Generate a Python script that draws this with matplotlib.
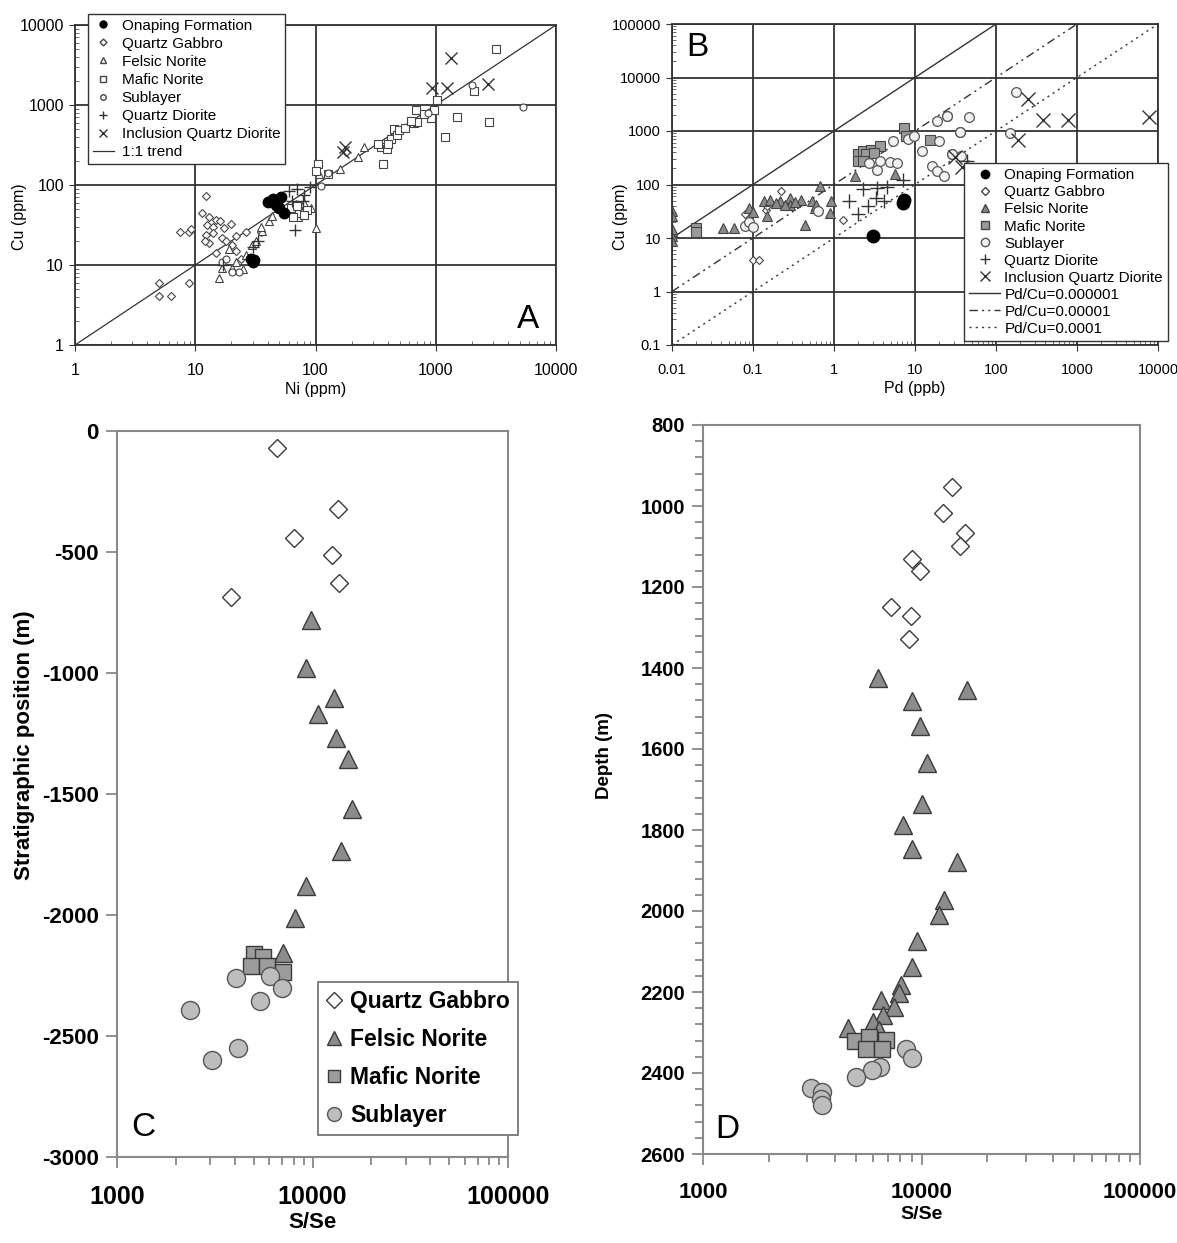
import numpy as np
import matplotlib.pyplot as plt
from matplotlib.lines import Line2D
from matplotlib.ticker import LogLocator, NullFormatter, MultipleLocator

plt.rcParams['font.family'] = ['Liberation Sans', 'DejaVu Sans']
plt.rcParams['axes.unicode_minus'] = False

# ---------------- panel A : Ni vs Cu (ppm) ----------------
a_onaping = [(40, 62), (44, 66), (47, 56), (50, 52), (52, 70), (48, 60), (30, 11), (29, 12), (31, 11.5), (55, 45)]
a_qgabbro = [(12.3, 72), (11.4, 45), (7.5, 26), (8.8, 26), (9.2, 28), (12.6, 32), (14.8, 36), (12.3, 24),
             (13.1, 19), (17.4, 29), (19.8, 33), (21.7, 23), (26.3, 26), (16.6, 22), (20.4, 18), (5.0, 6.0),
             (5.0, 4.1), (6.3, 4.1), (8.9, 6.0), (14, 30), (16, 35), (13, 40), (18, 20), (22, 15), (24, 12),
             (15, 14), (12, 20), (180, 260), (35, 26), (14, 25)]
a_felsic = [(15.8, 6.8), (16.8, 9.1), (20.4, 9.1), (26.3, 13.4), (29.9, 17.9), (31.8, 19.7), (36.1, 26.3),
            (41.1, 35.2), (43.8, 40.6), (60.3, 51.8), (68.5, 57.1), (77.7, 47), (100, 29), (91, 52), (106, 136),
            (160, 158), (224, 222), (255, 297), (19, 16), (22, 11), (35, 30), (65, 45), (80, 60), (72, 40), (25, 9)]
a_mafic = [(62, 52), (72.6, 45), (85.3, 49), (70, 55), (80, 42), (65, 40), (104, 183), (101, 150), (126, 136),
           (361, 183), (350, 297), (390, 283), (328, 327), (424, 378), (450, 506), (480, 417), (495, 483),
           (660, 590), (700, 615), (680, 864), (910, 690), (970, 864), (1030, 1150), (1190, 397), (1500, 711),
           (2790, 609), (2080, 1500), (3180, 5070), (550, 520), (620, 640), (400, 330), (800, 780)]
a_sublayer = [(5330, 934), (2010, 1790), (20.4, 8.2), (23.2, 8.2), (16.8, 11), (111, 97), (126, 140), (18, 12), (870, 790)]
a_qdiorite = [(60, 84), (67, 27), (78, 63), (64, 63), (80, 75), (17, 10), (30, 17), (33, 20), (70, 90), (90, 95)]
a_iqdiorite = [(1350, 3890), (938, 1626), (1250, 1626), (2730, 1845), (176, 297), (170, 260)]

# ---------------- panel B : Pd (ppb) vs Cu (ppm) ----------------
b_onaping = [(7.2, 45), (7.4, 52), (3.0, 10.7)]
b_qgabbro = [(0.22, 75), (0.1, 3.9), (0.12, 3.9), (0.146, 34), (1.28, 22), (0.08, 28), (0.15, 40)]
b_felsic = [(0.01, 31.6), (0.01, 25.3), (0.01, 13.3), (0.01, 10.7), (0.01, 8.7), (0.01, 15), (0.043, 15.4),
            (0.058, 15.4), (0.089, 36.5), (0.1, 30), (0.136, 48.7), (0.16, 52), (0.214, 48.7), (0.29, 56),
            (0.29, 42), (0.386, 52), (0.53, 48.7), (0.58, 36.5), (0.92, 48.7), (0.89, 29.8), (0.68, 93),
            (0.437, 17.8), (1.8, 143), (5.7, 154), (0.15, 25.3), (0.25, 42), (0.6, 42), (0.33, 48), (0.19, 45)]
b_mafic = [(0.02, 15.4), (0.02, 13), (2.0, 365), (2.3, 420), (2.9, 450), (3.7, 520), (2.0, 275), (2.5, 365),
           (7.3, 1150), (7.8, 800), (15.5, 670), (2.3, 275), (3.1, 380)]
b_sublayer = [(0.08, 17), (0.09, 20), (0.1, 16), (0.64, 32), (3.4, 190), (4.9, 263), (6, 255), (3.7, 270),
              (2.7, 255), (5.4, 650), (8.1, 700), (9.8, 800), (18.5, 1540), (25, 1900), (36, 970), (12.2, 420),
              (16.3, 220), (18.5, 178), (22.5, 143), (20, 650), (28.7, 365), (37.5, 340), (177, 5350),
              (150, 903), (46, 1790), (35.5, 970), (24.8, 1870), (28.7, 375)]
b_qdiorite = [(2.25, 84), (1.55, 49), (2.6, 39), (2.0, 27.5), (3.3, 56), (4.1, 50), (3.4, 87), (4.5, 89),
              (7.1, 119), (43.8, 280)]
b_iqdiorite = [(248, 3880), (377, 1620), (770, 1620), (7680, 1790), (187, 675), (38, 210), (31, 330)]
pdcu_ratios = [0.000001, 0.00001, 0.0001]

# ---------------- panel C : S/Se vs stratigraphic position ----------------
c_qgabbro = [(6550, -70), (13580, -322), (8000, -442), (12650, -512), (13700, -628), (3820, -686)]
c_felsic = [(9770, -780), (9310, -980), (12950, -1105), (10610, -1170), (13250, -1268), (15270, -1355),
            (15840, -1560), (14060, -1735), (9310, -1880), (8090, -2012), (7030, -2155)]
c_mafic = [(5000, -2161), (5560, -2174), (4830, -2211), (5820, -2211), (7030, -2236)]
c_sublayer = [(4050, -2260), (6040, -2252), (6950, -2302), (5370, -2355), (2360, -2393), (4150, -2550), (3050, -2600)]

# ---------------- panel D : S/Se vs depth ----------------
d_qgabbro = [(13830, 953), (12590, 1017), (15850, 1067), (15030, 1099), (9010, 1131), (9800, 1160),
             (7230, 1249), (8910, 1272), (8730, 1328)]
d_felsic = [(6310, 1425), (16180, 1454), (9010, 1481), (9800, 1543), (10650, 1635), (10000, 1736), (8200, 1788),
            (9000, 1847), (14580, 1879), (12730, 1973), (12070, 2010), (9490, 2074), (9000, 2138), (8030, 2183),
            (7860, 2202), (6510, 2220), (7460, 2237), (6700, 2257), (5980, 2274), (4610, 2289), (6370, 2294)]
d_mafic = [(4960, 2321), (5740, 2311), (6870, 2318), (5560, 2341), (6580, 2341)]
d_sublayer = [(8450, 2341), (9000, 2363), (6440, 2385), (5930, 2393), (5010, 2410), (3130, 2437), (3510, 2447),
              (3470, 2465), (3510, 2479)]

W, H = 1177, 1243
fig = plt.figure(figsize=(W / 100, H / 100), dpi=100)


def box(l, t, r, b):
    return [l / W, 1 - b / H, (r - l) / W, (b - t) / H]


def pts(ax, data, **kw):
    d = np.array(data, dtype=float)
    ax.plot(d[:, 0], d[:, 1], linestyle='none', **kw)


def letter(x, y, s, size):
    fig.text(x / W, 1 - y / H, s, fontsize=size, ha='center', va='center')


def geo_axes(ax, tsize):
    for s in ax.spines.values():
        s.set_color('#333333')
        s.set_linewidth(1.3)
    ax.grid(True, which='major', color='#333333', linewidth=1.3)
    ax.tick_params(which='major', direction='out', length=4, color='#333333', labelsize=tsize, pad=4)
    ax.tick_params(which='minor', direction='in', length=3, color='#555555')
    ax.xaxis.set_minor_locator(LogLocator(base=10, subs=np.arange(2, 10)))
    ax.yaxis.set_minor_locator(LogLocator(base=10, subs=np.arange(2, 10)))
    ax.xaxis.set_minor_formatter(NullFormatter())
    ax.yaxis.set_minor_formatter(NullFormatter())


ek = '#444444'
# ---------------- A ----------------
axA = fig.add_axes(box(75, 25, 556, 345))
axA.set_xscale('log')
axA.set_yscale('log')
axA.plot([1, 11000], [1, 11000], color='#333333', lw=0.9, label='1:1 trend')
pts(axA, a_qgabbro, marker='D', ms=4.2, mfc='white', mec=ek, mew=0.8)
pts(axA, a_felsic, marker='^', ms=5.5, mfc='white', mec=ek, mew=0.8)
pts(axA, a_mafic, marker='s', ms=5.5, mfc='white', mec=ek, mew=0.8)
pts(axA, a_sublayer, marker='o', ms=5, mfc='white', mec=ek, mew=0.8)
pts(axA, a_qdiorite, marker='+', ms=8, mec='#333333', mew=1.0)
pts(axA, a_iqdiorite, marker='x', ms=8, mec='#333333', mew=1.0)
pts(axA, a_onaping, marker='o', ms=7.5, mfc='black', mec='black')
axA.set_xlim(1, 10000)
axA.set_ylim(1, 10000)
geo_axes(axA, 11.5)
axA.set_xticks([1, 10, 100, 1000, 10000], ['1', '10', '100', '1000', '10000'])
axA.set_yticks([1, 10, 100, 1000, 10000], ['1', '10', '100', '1000', '10000'])
axA.tick_params(axis='x', pad=9)
axA.set_xlabel('Ni (ppm)', fontsize=11.5, labelpad=3)
axA.set_ylabel('Cu (ppm)', fontsize=11.5)
axA.yaxis.set_label_coords(-0.1, 0.4)
letter(528, 320, 'A', 24)

hA = [Line2D([], [], ls='none', marker='o', ms=5, mfc='black', mec='black', label='Onaping Formation'),
      Line2D([], [], ls='none', marker='D', ms=3.5, mfc='white', mec=ek, label='Quartz Gabbro'),
      Line2D([], [], ls='none', marker='^', ms=4.5, mfc='white', mec=ek, label='Felsic Norite'),
      Line2D([], [], ls='none', marker='s', ms=4.5, mfc='white', mec=ek, label='Mafic Norite'),
      Line2D([], [], ls='none', marker='o', ms=4, mfc='white', mec=ek, label='Sublayer'),
      Line2D([], [], ls='none', marker='+', ms=6, mec='#333333', label='Quartz Diorite'),
      Line2D([], [], ls='none', marker='x', ms=6, mec='#333333', label='Inclusion Quartz Diorite'),
      Line2D([], [], color='#333333', lw=0.9, label='1:1 trend')]
legA = axA.legend(handles=hA, loc='upper left', bbox_to_anchor=(88 / W, 1 - 14 / H), bbox_transform=fig.transFigure,
                  fontsize=11, frameon=True, fancybox=False, framealpha=1, edgecolor='#333333',
                  handlelength=1.4, handletextpad=0.5, labelspacing=0.27, borderpad=0.3, borderaxespad=0)
legA.get_frame().set_linewidth(1.0)

# ---------------- B ----------------
axB = fig.add_axes(box(672, 24, 1158, 345))
axB.set_xscale('log')
axB.set_yscale('log')
pd_line = np.array([0.01, 10000])
line_styles = ['-', (0, (6, 3, 1.5, 3, 1.5, 3)), (0, (1.5, 3))]
ratio_labels = ['Pd/Cu=0.000001', 'Pd/Cu=0.00001', 'Pd/Cu=0.0001']
for r, ls in zip(pdcu_ratios, line_styles):
    axB.plot(pd_line, pd_line / (r * 1000), color='#333333', lw=1.0, ls=ls)
pts(axB, b_qgabbro, marker='D', ms=4.5, mfc='white', mec=ek, mew=0.8)
pts(axB, b_felsic, marker='^', ms=6.5, mfc='#8a8a8a', mec=ek, mew=0.8)
pts(axB, b_mafic, marker='s', ms=7, mfc='#9a9a9a', mec=ek, mew=0.8)
pts(axB, b_sublayer, marker='o', ms=7, mfc='#f2f2f2', mec='#555555', mew=0.9)
pts(axB, b_qdiorite, marker='+', ms=10, mec='#333333', mew=1.0)
pts(axB, b_iqdiorite, marker='x', ms=10, mec='#333333', mew=1.0)
pts(axB, b_onaping, marker='o', ms=9, mfc='black', mec='black')
axB.set_xlim(0.01, 10000)
axB.set_ylim(0.1, 100000)
geo_axes(axB, 10.5)
axB.set_xticks([0.01, 0.1, 1, 10, 100, 1000, 10000], ['0.01', '0.1', '1', '10', '100', '1000', '10000'])
axB.set_yticks([0.1, 1, 10, 100, 1000, 10000, 100000], ['0.1', '1', '10', '100', '1000', '10000', '100000'])
axB.tick_params(axis='x', pad=9)
axB.set_xlabel('Pd (ppb)', fontsize=11.5, labelpad=3)
axB.set_ylabel('Cu (ppm)', fontsize=11.5)
axB.yaxis.set_label_coords(-0.09, 0.4)
letter(697, 47, 'B', 24)

hB = [Line2D([], [], ls='none', marker='o', ms=6, mfc='black', mec='black', label='Onaping Formation'),
      Line2D([], [], ls='none', marker='D', ms=4, mfc='white', mec=ek, label='Quartz Gabbro'),
      Line2D([], [], ls='none', marker='^', ms=5.5, mfc='#8a8a8a', mec=ek, label='Felsic Norite'),
      Line2D([], [], ls='none', marker='s', ms=5.5, mfc='#9a9a9a', mec=ek, label='Mafic Norite'),
      Line2D([], [], ls='none', marker='o', ms=6, mfc='#f2f2f2', mec='#555555', label='Sublayer'),
      Line2D([], [], ls='none', marker='+', ms=7, mec='#333333', label='Quartz Diorite'),
      Line2D([], [], ls='none', marker='x', ms=7, mec='#333333', label='Inclusion Quartz Diorite')]
for ls, lab in zip(line_styles, ratio_labels):
    hB.append(Line2D([], [], color='#333333', lw=1.0, ls=ls, label=lab))
legB = axB.legend(handles=hB, loc='upper left', bbox_to_anchor=(964 / W, 1 - 163 / H), bbox_transform=fig.transFigure,
                  fontsize=11, frameon=True, fancybox=False, framealpha=1, edgecolor='#333333',
                  handlelength=2.0, handletextpad=0.3, labelspacing=0.2, borderpad=0.35, borderaxespad=0)
legB.get_frame().set_linewidth(1.0)
legB.set_zorder(5)


# ---------------- C and D ----------------
def sse_axes(ax, xsize, ysize, lsize):
    for s in ax.spines.values():
        s.set_color('#888888')
        s.set_linewidth(1.5)
    ax.set_xscale('log')
    ax.set_xlim(1000, 100000)
    ax.set_xticks([1000, 10000, 100000], ['1000', '10000', '100000'])
    ax.xaxis.set_minor_locator(LogLocator(base=10, subs=np.arange(2, 10)))
    ax.xaxis.set_minor_formatter(NullFormatter())
    ax.tick_params(which='both', direction='out', color='#888888', width=1.3)
    ax.tick_params(which='major', length=8)
    ax.tick_params(which='minor', length=6)
    ax.tick_params(axis='x', which='major', pad=12, labelsize=xsize)
    ax.tick_params(axis='y', which='major', pad=5, labelsize=ysize)
    for lab in ax.get_xticklabels() + ax.get_yticklabels():
        lab.set_fontweight('bold')
    ax.set_xlabel('S/Se', fontsize=lsize, fontweight='bold', labelpad=2)


gk = '#3a3a3a'
axC = fig.add_axes(box(117, 431, 508, 1157))
pts(axC, c_qgabbro, marker='D', ms=9, mfc='white', mec=gk, mew=1.0)
pts(axC, c_felsic, marker='^', ms=13, mfc='#8c8c8c', mec=gk, mew=1.0)
pts(axC, c_mafic, marker='s', ms=11, mfc='#9c9c9c', mec=gk, mew=1.0)
pts(axC, c_sublayer, marker='o', ms=13, mfc='#bdbdbd', mec='#555555', mew=1.0)
axC.set_ylim(-3000, 0)
axC.set_yticks(np.arange(-3000, 1, 500))
sse_axes(axC, 18, 16, 16)
axC.set_ylabel('Stratigraphic position (m)', fontsize=16, fontweight='bold')
axC.yaxis.set_label_coords(-0.21, 0.567)
letter(143, 1127, 'C', 24)

axD = fig.add_axes(box(703, 425, 1140, 1154))
pts(axD, d_qgabbro, marker='D', ms=9, mfc='white', mec=gk, mew=1.0)
pts(axD, d_felsic, marker='^', ms=13, mfc='#8c8c8c', mec=gk, mew=1.0)
pts(axD, d_mafic, marker='s', ms=11, mfc='#9c9c9c', mec=gk, mew=1.0)
pts(axD, d_sublayer, marker='o', ms=13, mfc='#bdbdbd', mec='#555555', mew=1.0)
axD.set_ylim(2600, 800)
axD.set_yticks(np.arange(800, 2601, 200))
axD.yaxis.set_minor_locator(MultipleLocator(40))
sse_axes(axD, 16, 14.5, 14)
axD.set_ylabel('Depth (m)', fontsize=13.5, fontweight='bold')
axD.yaxis.set_label_coords(-0.205, 0.547)
letter(727, 1130, 'D', 24)

hC = [Line2D([], [], ls='none', marker='D', ms=8, mfc='white', mec=gk, label='Quartz Gabbro'),
      Line2D([], [], ls='none', marker='^', ms=10, mfc='#8c8c8c', mec=gk, label='Felsic Norite'),
      Line2D([], [], ls='none', marker='s', ms=9, mfc='#9c9c9c', mec=gk, label='Mafic Norite'),
      Line2D([], [], ls='none', marker='o', ms=10, mfc='#bdbdbd', mec='#555555', label='Sublayer')]
legC = axC.legend(handles=hC, loc='upper left', bbox_to_anchor=(318 / W, 1 - 982 / H), bbox_transform=fig.transFigure,
                  prop={'weight': 'bold', 'size': 16.5}, frameon=True, fancybox=False, framealpha=1,
                  edgecolor='#777777', handlelength=0.7, handletextpad=0.35, labelspacing=0.65,
                  borderpad=0.35, borderaxespad=0)
legC.get_frame().set_linewidth(1.3)

fig.savefig('out.png', dpi=100)
